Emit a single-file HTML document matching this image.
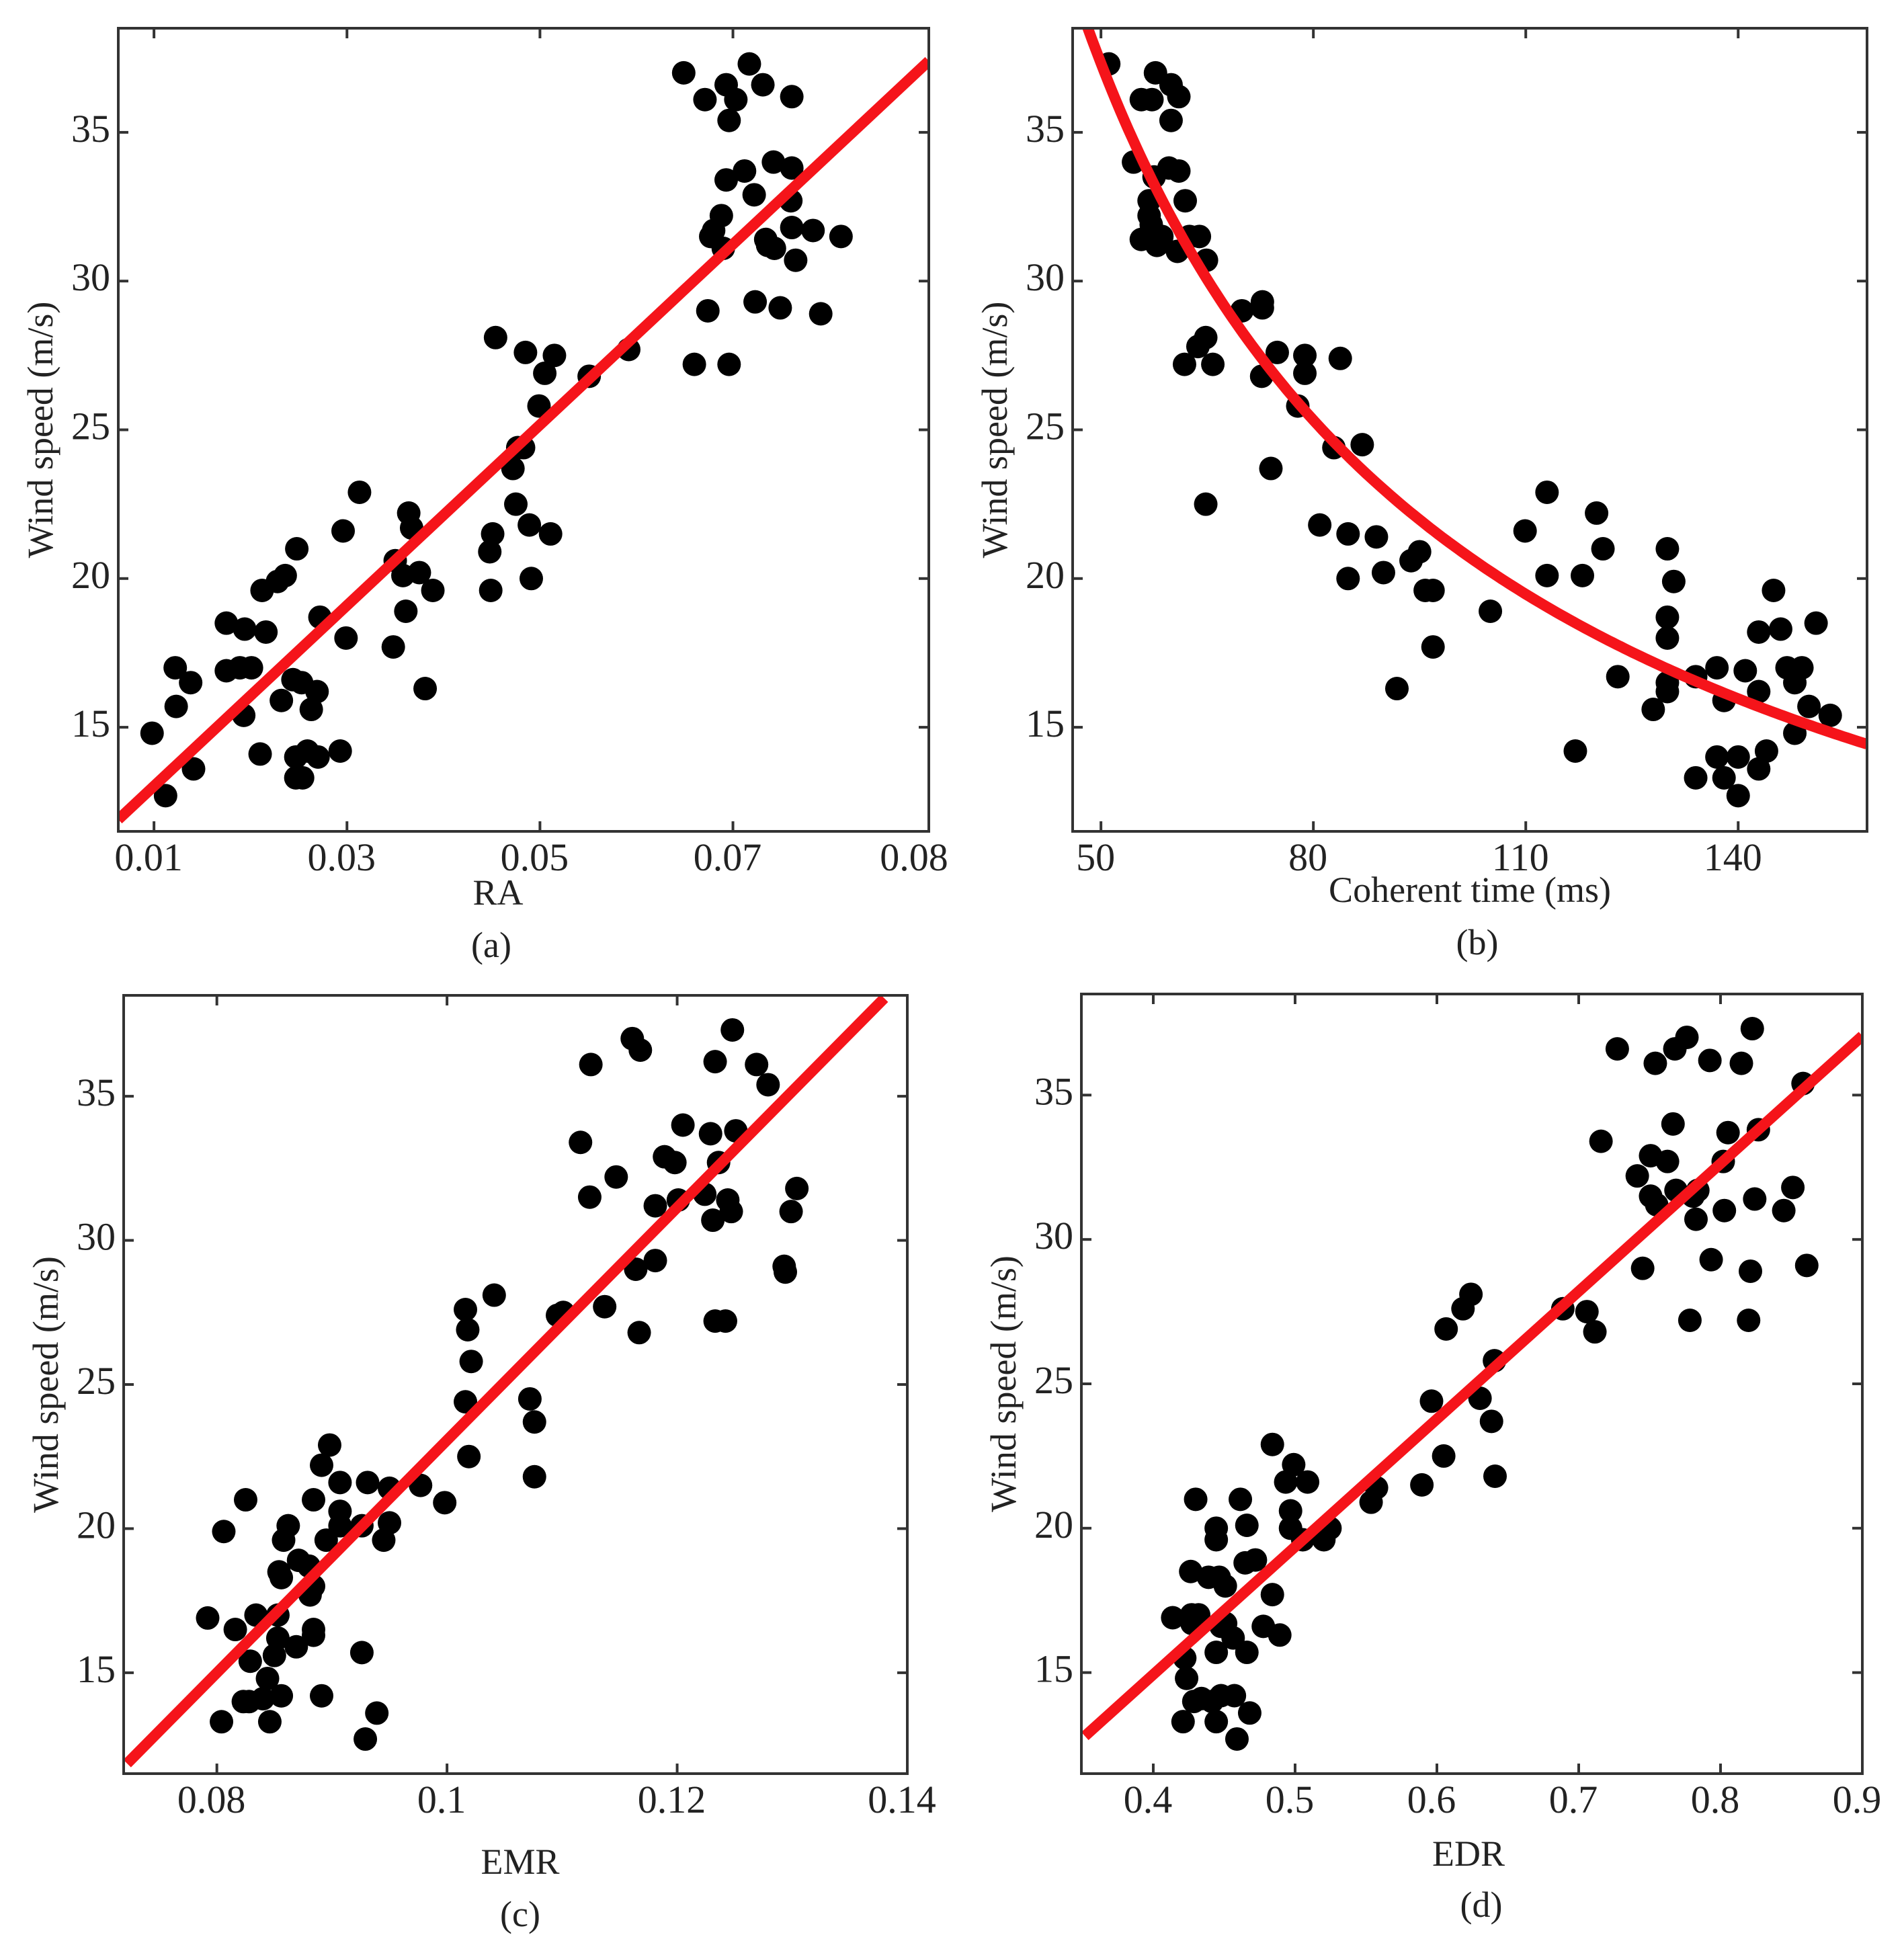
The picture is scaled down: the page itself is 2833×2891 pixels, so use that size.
<!DOCTYPE html>
<html><head><meta charset="utf-8"><style>
html,body{margin:0;padding:0;background:#fff;}
svg{display:block;}
text{font-family:"Liberation Serif","Times New Roman",serif;fill:#222;}
</style></head><body>
<svg id="fig" width="2833" height="2891" viewBox="0 0 2833 2891" xmlns="http://www.w3.org/2000/svg"></svg>
<script>
// ---------- data ----------
const raX=[0.0098,0.0112,0.0122,0.0123,0.0138,0.0141,0.0175,0.0175,0.0189,0.0194,0.0201,0.0193,0.0212,0.0216,0.021,0.0228,0.0236,0.0248,0.0232,0.0244,0.0253,0.0247,0.0247,0.0254,0.0259,0.0263,0.0269,0.027,0.0272,0.0293,0.0296,0.0299,0.0313,0.0348,0.035,0.0358,0.0364,0.0367,0.0361,0.0375,0.0381,0.0389,0.0448,0.0451,0.0449,0.0454,0.0472,0.0477,0.0475,0.0483,0.0489,0.0491,0.0485,0.0499,0.0505,0.0511,0.0515,0.0551,0.0592,0.0649,0.066,0.0671,0.0674,0.0677,0.068,0.0688,0.069,0.0693,0.0693,0.0696,0.0703,0.0696,0.0712,0.0717,0.0722,0.0731,0.0723,0.0734,0.0736,0.0743,0.0742,0.0761,0.0761,0.076,0.0761,0.0765,0.0749,0.0783,0.0791,0.0812];
const raY=[14.8,12.7,17.0,15.7,16.5,13.6,18.5,16.9,17.0,18.3,17.0,15.4,19.6,18.2,14.1,19.9,20.1,21.0,15.9,16.6,16.5,14.0,13.3,13.3,14.2,15.6,16.2,14.0,18.7,14.2,21.6,18.0,22.9,17.7,20.6,20.1,22.2,21.7,18.9,20.2,16.3,19.6,20.9,21.5,19.6,28.1,23.7,24.4,22.5,24.4,21.8,20.0,27.6,25.8,26.9,21.5,27.5,26.8,27.7,37.0,27.2,36.1,29.0,31.5,31.7,32.2,31.1,33.4,36.6,35.4,36.1,27.2,33.7,37.3,32.9,36.6,29.3,31.4,31.2,31.1,34.0,36.2,33.8,32.7,31.8,30.7,29.1,31.7,28.9,31.5];
const ctX=[51.1,57.7,55.7,57.2,59.9,61.0,59.9,54.6,59.6,61.0,57.5,56.8,61.9,56.8,57.1,55.7,57.9,58.6,60.8,63.9,64.9,62.5,69.9,72.8,72.8,64.8,63.7,61.8,65.8,74.9,78.8,78.8,83.8,72.7,77.8,82.9,86.9,74.0,64.8,80.9,84.9,88.9,84.9,89.9,93.8,95.0,95.8,96.9,96.9,91.8,105,109.9,113,113,118,120,120.9,117,123,128,130,130.9,130,130,130,130,134,137,138,141,142.9,142.9,145,146,146.9,149,148,151,150,153,148,144,142.9,137,140,134,138,140];
const ctY=[37.3,37.0,36.1,36.1,36.6,36.2,35.4,34.0,33.8,33.7,33.5,32.7,32.7,32.2,31.9,31.4,31.2,31.5,31.0,31.5,30.7,31.5,29.0,29.3,29.1,28.1,27.8,27.2,27.2,27.6,27.5,26.9,27.4,26.8,25.8,24.4,24.5,23.7,22.5,21.8,21.5,21.4,20.0,20.2,20.6,20.9,19.6,19.6,17.7,16.3,18.9,21.6,22.9,20.1,20.1,22.2,21.0,14.2,16.7,15.6,21.0,19.9,18.7,18.0,16.5,16.2,16.7,17.0,15.9,16.9,16.2,18.2,19.6,18.3,17.0,17.0,16.5,18.5,15.7,15.4,14.8,14.2,13.6,14.0,14.0,13.3,13.3,12.7];
const emX=[0.0792,0.0806,0.0804,0.0816,0.0825,0.0823,0.0828,0.0829,0.0834,0.084,0.0844,0.0846,0.085,0.0853,0.0853,0.0854,0.0856,0.0858,0.0862,0.0856,0.0869,0.0871,0.088,0.0881,0.0884,0.0884,0.0884,0.0884,0.0891,0.0891,0.0898,0.0895,0.0907,0.0907,0.0907,0.0926,0.0926,0.0931,0.0929,0.0939,0.095,0.095,0.0945,0.0977,0.0998,0.1016,0.1018,0.1021,0.1016,0.1019,0.1041,0.1072,0.1076,0.1076,0.1096,0.1101,0.1125,0.1116,0.1124,0.1137,0.1147,0.1161,0.1168,0.1164,0.1167,0.1181,0.1181,0.1189,0.1198,0.1201,0.1205,0.1224,0.1229,0.1233,0.1231,0.1236,0.1233,0.1242,0.1244,0.1247,0.1248,0.1251,0.1269,0.1279,0.1293,0.1294,0.1299,0.1304];
const emY=[16.9,19.9,13.3,16.5,21.0,14.0,14.0,15.4,17.0,14.1,14.8,13.3,15.6,16.2,17.0,18.5,18.3,19.6,20.1,14.2,15.9,18.9,18.7,17.7,18.0,16.5,16.3,21.0,22.2,14.2,22.9,19.6,20.6,21.6,20.1,20.1,15.7,21.6,12.7,13.6,21.4,20.2,19.6,21.5,20.9,27.6,26.9,25.8,24.4,22.5,28.1,24.5,23.7,21.8,27.4,27.5,36.1,33.4,31.5,27.7,32.2,37.0,36.6,29.0,26.8,31.2,29.3,32.9,32.7,31.4,34.0,31.6,33.7,36.2,30.7,32.7,27.2,27.2,31.4,31.0,37.3,33.8,36.1,35.4,29.1,28.9,31.0,31.8];
const edX=[0.4137,0.421,0.4222,0.4235,0.4264,0.4273,0.427,0.4299,0.432,0.4286,0.434,0.439,0.4414,0.4444,0.4444,0.4444,0.4444,0.4465,0.4478,0.4478,0.4508,0.451,0.4563,0.4572,0.459,0.4614,0.466,0.4648,0.466,0.468,0.472,0.4776,0.484,0.484,0.4892,0.4934,0.4968,0.4968,0.499,0.5088,0.5054,0.5203,0.5246,0.5536,0.5574,0.5894,0.5962,0.6048,0.6065,0.6184,0.624,0.6304,0.6385,0.6406,0.641,0.6888,0.7058,0.7114,0.7157,0.7272,0.7413,0.7451,0.7507,0.7507,0.754,0.755,0.7626,0.7665,0.7678,0.7686,0.7763,0.7784,0.7806,0.7827,0.784,0.7925,0.7934,0.8019,0.8027,0.8053,0.8147,0.8198,0.8211,0.8224,0.8241,0.8267,0.8446,0.851,0.8582,0.8608];
const edY=[16.9,13.3,15.5,14.8,18.5,16.7,17.0,21.0,17.0,14.0,14.1,18.3,14.0,20.0,19.6,13.3,15.7,18.3,16.6,14.2,18.0,16.7,16.2,14.2,12.7,21.0,20.1,18.8,15.7,13.6,18.9,16.6,17.7,22.9,16.3,21.6,20.0,20.6,22.2,21.6,19.6,19.6,20.0,20.9,21.4,21.5,24.4,22.5,26.9,27.6,28.1,24.5,23.7,25.8,21.8,27.6,27.5,26.8,33.4,36.6,32.2,29.0,31.5,32.9,36.1,31.2,32.7,34.0,36.6,31.7,37.0,27.2,31.5,30.7,31.7,36.2,29.3,32.7,31.0,33.7,36.1,27.2,28.9,37.3,31.4,33.8,31.0,31.8,35.4,29.1];
// fits
const fitAx=[0.0063,0.0903], fitAy=[11.9,37.4];
const fitCx=[0.0722,0.138], fitCy=[11.85,38.4];
const fitDx=[0.3518,0.9], fitDy=[12.8,37.05];
const fitBparams=[38.6,48,-0.825]; // y = a*(x/x0)^b
// ticks
const yTicks=[15,20,25,30,35];
const aTicks=[0.01,0.03,0.05,0.07], aTickLabels=["0.01","0.03","0.05","0.07"];
const bTicks=[50,80,110,140], bTickLabels=["50","80","110","140"];
const cTicks=[0.08,0.1,0.12,0.14], cTickLabels=["0.08","0.1","0.12","0.14"];
const dTicks=[0.4,0.5,0.6,0.7,0.8,0.9], dTickLabels=["0.4","0.5","0.6","0.7","0.8","0.9"];

// ---------- drawing ----------
const NS="http://www.w3.org/2000/svg";
const svg=document.getElementById('fig');
const FF='"Liberation Serif", "Times New Roman", serif';
function mk(tag,attrs,parent){const e=document.createElementNS(NS,tag);for(const k in attrs)e.setAttribute(k,attrs[k]);(parent||svg).appendChild(e);return e;}

function panel(cfg){
  const g=mk('g',{});
  
  
  const sx=v=>cfg.L+(v-cfg.x0)/(cfg.x1-cfg.x0)*(cfg.R-cfg.L);
  const sy=v=>cfg.B-(v-11.5)/(38.5-11.5)*(cfg.B-cfg.T);
  const cid='clip-'+cfg.name;
  const cp=mk('clipPath',{id:cid},g);
  mk('rect',{x:cfg.L,y:cfg.T,width:cfg.R-cfg.L,height:cfg.B-cfg.T},cp);
  const pg=mk('g',{'clip-path':'url(#'+cid+')'},g);
  for(let i=0;i<cfg.xs.length;i++){
    const c=mk('circle',{cx:sx(cfg.xs[i]),cy:sy(cfg.ys[i]),r:17.5,fill:'#000'},pg);
    
    
  }
  let d='';
  if(cfg.curve){
    const [a,x0,b]=cfg.curve;
    for(let k=0;k<=200;k++){const x=cfg.x0+(cfg.x1-cfg.x0)*k/200;const y=a*Math.pow(x/x0,b);d+=(k?'L':'M')+sx(x).toFixed(1)+','+sy(y).toFixed(1);}
  } else {
    d='M'+sx(cfg.fx[0])+','+sy(cfg.fy[0])+'L'+sx(cfg.fx[1])+','+sy(cfg.fy[1]);
  }
  const fl=mk('path',{d:d,stroke:'#f5141a',"stroke-width":16,fill:'none'},pg);
  
  
  const fr=mk('rect',{x:cfg.L,y:cfg.T,width:cfg.R-cfg.L,height:cfg.B-cfg.T,fill:'none',stroke:'#333','stroke-width':4},g);
  
  
  yTicks.forEach(v=>{
    const y=sy(v);
    mk('line',{x1:cfg.L,x2:cfg.L+15,y1:y,y2:y,stroke:'#333','stroke-width':4},g);
    mk('line',{x1:cfg.R,x2:cfg.R-15,y1:y,y2:y,stroke:'#333','stroke-width':4},g);
    const t=mk('text',{x:cfg.L-12,y:y+14,'text-anchor':'end','font-size':58,'font-family':FF},g);
    t.textContent=String(v);
    
    
  });
  cfg.ticks.forEach((v,i)=>{
    const x=sx(v);
    if(x<cfg.R-5){
      mk('line',{x1:x,x2:x,y1:cfg.B,y2:cfg.B-15,stroke:'#333','stroke-width':4},g);
      mk('line',{x1:x,x2:x,y1:cfg.T,y2:cfg.T+15,stroke:'#333','stroke-width':4},g);
    }
    const t=mk('text',{x:Math.min(x,cfg.R)-8,y:cfg.B+58,'text-anchor':'middle','font-size':58,'font-family':FF},g);
    t.textContent=cfg.labels[i];
    
    
  });
  if(cfg.extraLabel){
    const t=mk('text',{x:cfg.R-22,y:cfg.B+58,'text-anchor':'middle','font-size':58,'font-family':FF},g);
    t.textContent=cfg.extraLabel;
    
    
  }
  const yl=mk('text',{x:0,y:0,'text-anchor':'middle','font-size':54,'font-family':FF,transform:'translate('+(cfg.L-98)+','+((cfg.T+cfg.B)/2)+') rotate(-90)'},g);
  yl.textContent='Wind speed (m/s)';
  
  
  const xl=mk('text',{x:cfg.xlx,y:cfg.xly,'text-anchor':'middle','font-size':54,'font-family':FF},g);
  xl.textContent=cfg.xlabel;
  
  
  const cap=mk('text',{x:cfg.capx,y:cfg.capy,'text-anchor':'middle','font-size':54,'font-family':FF},g);
  cap.textContent=cfg.caption;
  
  
}

panel({name:'panel-a',L:176,R:1382,T:42,B:1237,x0:0.0063,x1:0.0903,xs:raX,ys:raY,fx:fitAx,fy:fitAy,
  ticks:aTicks,labels:aTickLabels,extraLabel:'0.08',xlabel:'RA',xlx:741,xly:1346,caption:'(a)',capx:731,capy:1424});
panel({name:'panel-b',L:1596,R:2778,T:42,B:1237,x0:46.0,x1:158.2,xs:ctX,ys:ctY,curve:fitBparams,
  ticks:bTicks,labels:bTickLabels,xlabel:'Coherent time (ms)',xlx:2187,xly:1342,caption:'(b)',capx:2198,capy:1420});
panel({name:'panel-c',L:184,R:1350,T:1481,B:2639,x0:0.0719,x1:0.14,xs:emX,ys:emY,fx:fitCx,fy:fitCy,
  ticks:cTicks,labels:cTickLabels,xlabel:'EMR',xlx:774,xly:2788,caption:'(c)',capx:774,capy:2866});
panel({name:'panel-d',L:1609,R:2771,T:1479,B:2639,x0:0.3493,x1:0.9,xs:edX,ys:edY,fx:fitDx,fy:fitDy,
  ticks:dTicks,labels:dTickLabels,xlabel:'EDR',xlx:2185,xly:2776,caption:'(d)',capx:2204,capy:2852});
</script>
</body></html>
